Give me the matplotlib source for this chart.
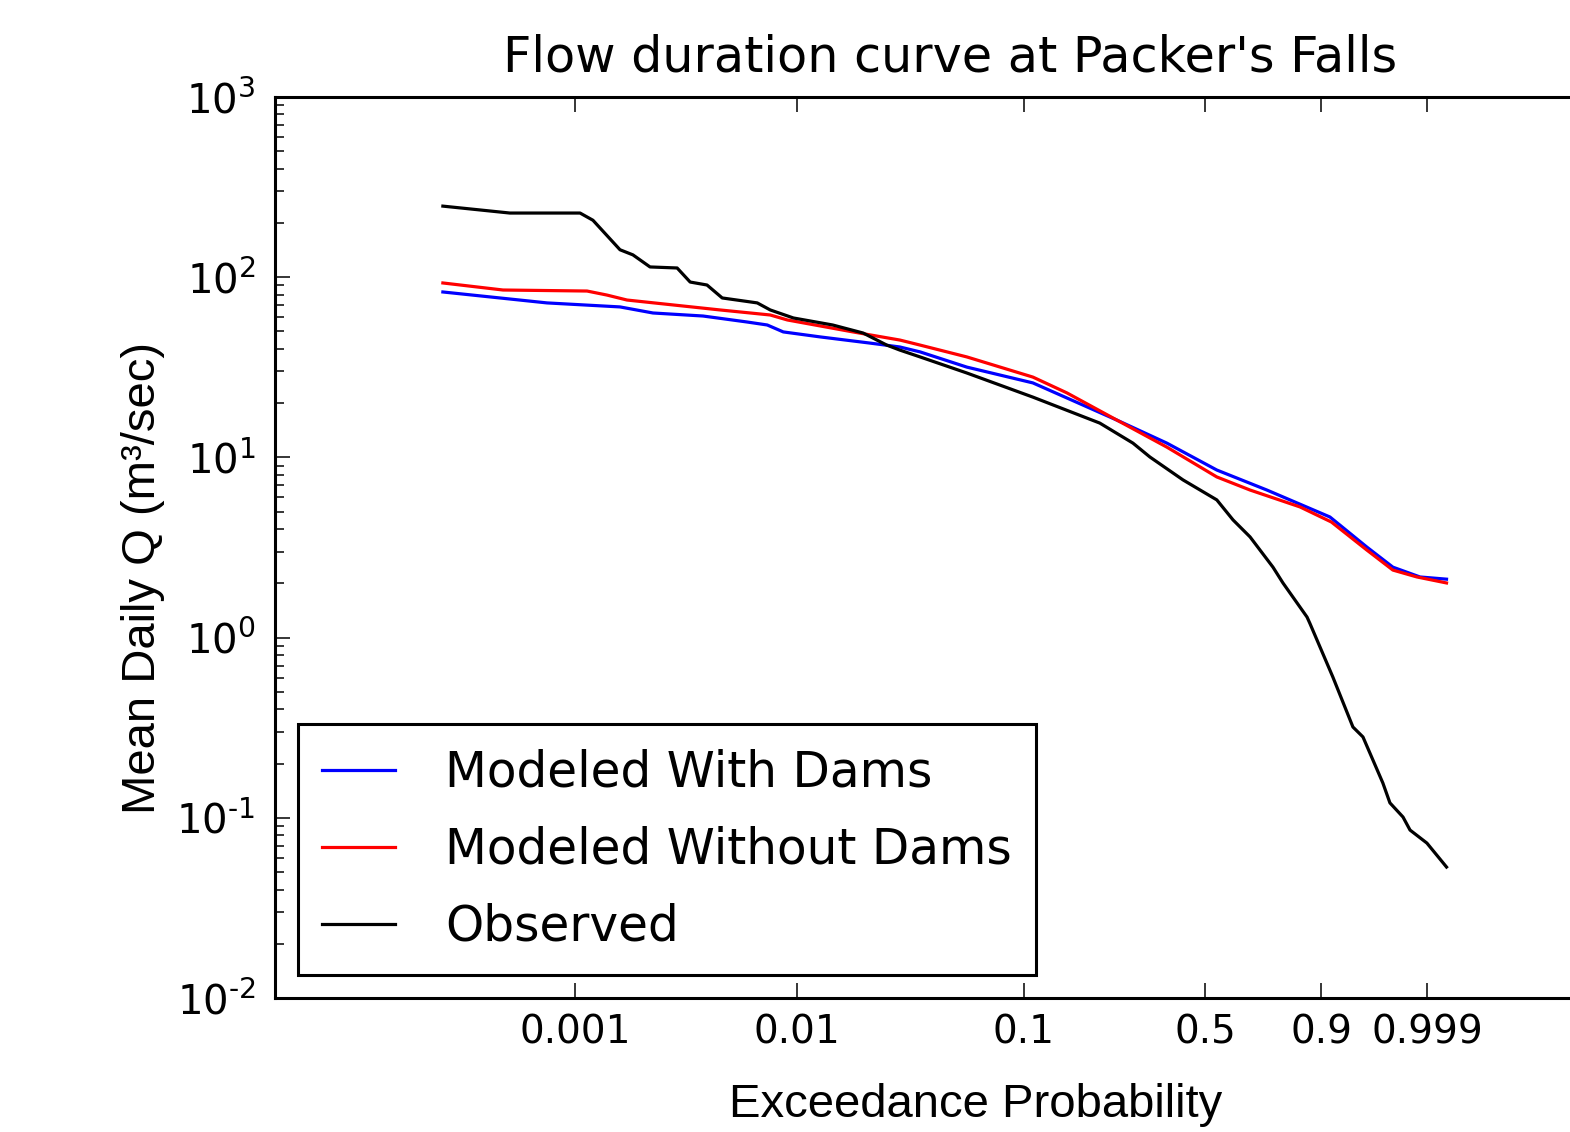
import numpy as np
import matplotlib
matplotlib.use('Agg')
import matplotlib.pyplot as plt
from matplotlib.ticker import FixedLocator, NullLocator, LogLocator, FixedFormatter, FuncFormatter

plt.rcParams['axes.unicode_minus'] = False

# exceedance probability and mean daily flow (m3/sec)
obs_p = [2.54e-4, 5.09e-4, 1.054e-3, 1.205e-3, 1.595e-3, 1.824e-3, 2.177e-3, 2.884e-3,
         3.30e-3, 3.93e-3, 4.60e-3, 6.61e-3, 7.56e-3, 9.60e-3, 0.0144, 0.0197, 0.0251,
         0.0287, 0.0353, 0.0567, 0.1094, 0.207, 0.279, 0.323, 0.423, 0.542, 0.603, 0.668,
         0.753, 0.788, 0.8635, 0.8714, 0.926, 0.9595, 0.9715, 0.9874, 0.99097, 0.99544,
         0.99697, 0.99900, 0.99979]
obs_q = [248, 227, 227, 207, 142, 133, 114, 112.5,
         94, 90.5, 76.7, 72, 65.8, 59.4, 54.3, 49.0, 42.0,
         39.4, 36.1, 29.4, 21.6, 15.5, 12.0, 10.05, 7.50, 5.81, 4.50, 3.62,
         2.46, 2.01, 1.30, 1.20, 0.604, 0.319, 0.281, 0.156, 0.121, 0.101,
         0.0855, 0.0724, 0.0533]

nodam_p = [2.54e-4, 4.74e-4, 1.133e-3, 1.393e-3, 1.715e-3, 4.50e-3, 7.56e-3, 9.02e-3,
           0.01774, 0.0287, 0.0353, 0.0567, 0.1094, 0.152, 0.242, 0.372, 0.542, 0.668,
           0.843, 0.923, 0.9754, 0.9922, 0.99803, 0.99979]
nodam_q = [92.9, 84.9, 83.8, 79.6, 74.7, 65.8, 61.7, 57.9,
           49.7, 44.8, 42.0, 36.1, 27.9, 22.8, 16.1, 11.4, 7.79, 6.59,
           5.31, 4.38, 3.06, 2.37, 2.17, 2.01]

dam_p = [2.54e-4, 7.48e-4, 1.595e-3, 2.245e-3, 3.77e-3, 5.96e-3, 7.33e-3, 8.65e-3,
         0.0127, 0.0211, 0.0287, 0.0353, 0.0567, 0.1094, 0.242, 0.372, 0.542, 0.731,
         0.920, 0.9754, 0.9922, 0.99839, 0.99979]
dam_q = [82.8, 72, 68.4, 63.3, 60.9, 56.4, 54.3, 49.7,
         46.6, 43.1, 41.0, 38.5, 31.7, 25.9, 16.1, 12.0, 8.51, 6.59,
         4.67, 3.18, 2.46, 2.17, 2.11]

tick_probs = [0.001, 0.01, 0.1, 0.5, 0.9, 0.999]
tick_labels = ['0.001', '0.01', '0.1', '0.5', '0.9', '0.999']


def fwd(p):
    p = np.asarray(p, dtype=float)
    with np.errstate(all='ignore'):
        return np.log10(-np.log1p(-p))


def inv(u):
    u = np.asarray(u, dtype=float)
    return -np.expm1(-10.0 ** u)


def pow_label(v, pos):
    e = int(round(np.log10(v)))
    if e < 0:
        return r'$\mathdefault{10^{\text{-}%d}}$' % (-e)
    return r'$\mathdefault{10^{%d}}$' % e


fig = plt.figure(figsize=(15.7, 11.32), dpi=100)
ax = fig.add_axes([275 / 1570, 134 / 1132, 1307 / 1570, 901 / 1132])

ax.plot(dam_p, dam_q, color='blue', lw=2.3, label='Modeled With Dams')
ax.plot(nodam_p, nodam_q, color='red', lw=2.3, label='Modeled Without Dams')
ax.plot(obs_p, obs_q, color='black', lw=2.3, label='Observed')

ax.set_xscale('function', functions=(fwd, inv))
ax.set_yscale('log')
ax.set_xlim(4.45e-5, 1 - 1e-15)
ax.set_ylim(1e-2, 1e3)

ax.xaxis.set_major_locator(FixedLocator(tick_probs))
ax.xaxis.set_major_formatter(FixedFormatter(tick_labels))
ax.xaxis.set_minor_locator(NullLocator())
ax.yaxis.set_major_locator(LogLocator(base=10))
ax.yaxis.set_major_formatter(FuncFormatter(pow_label))
ax.yaxis.set_minor_locator(LogLocator(base=10, subs=np.arange(2, 10)))

ax.tick_params(axis='x', which='major', direction='in', top=True, bottom=True,
               length=11, width=1.1, labelsize=28, pad=11)
ax.tick_params(axis='y', which='major', direction='in', left=True, right=False,
               length=11, width=1.1, labelsize=29, pad=14)
ax.tick_params(axis='y', which='minor', direction='in', left=True, right=False,
               length=6.5, width=1.1)
for s in ax.spines.values():
    s.set_linewidth(2.2)

ax.set_title("Flow duration curve at Packer's Falls", fontsize=35.5, pad=18,
             x=(950 - 275) / 1307)

fig.text(143 / 1570, 1 - 578 / 1132, 'Mean Daily Q (m\u00b3/sec)', rotation=90,
         fontsize=34, family='Liberation Sans', ha='center', va='center')
fig.text(976 / 1570, 15 / 1132, 'Exceedance Probability', fontsize=34,
         family='Liberation Sans', ha='center', va='baseline')

leg = ax.legend(loc='lower left', fontsize=35, handlelength=1.5, handletextpad=1.03,
                labelspacing=0.6, borderpad=0.5, borderaxespad=0.47, fancybox=False,
                framealpha=1)
leg.get_frame().set_edgecolor('black')
leg.get_frame().set_linewidth(2.2)

fig.savefig('out.png', dpi=100)
